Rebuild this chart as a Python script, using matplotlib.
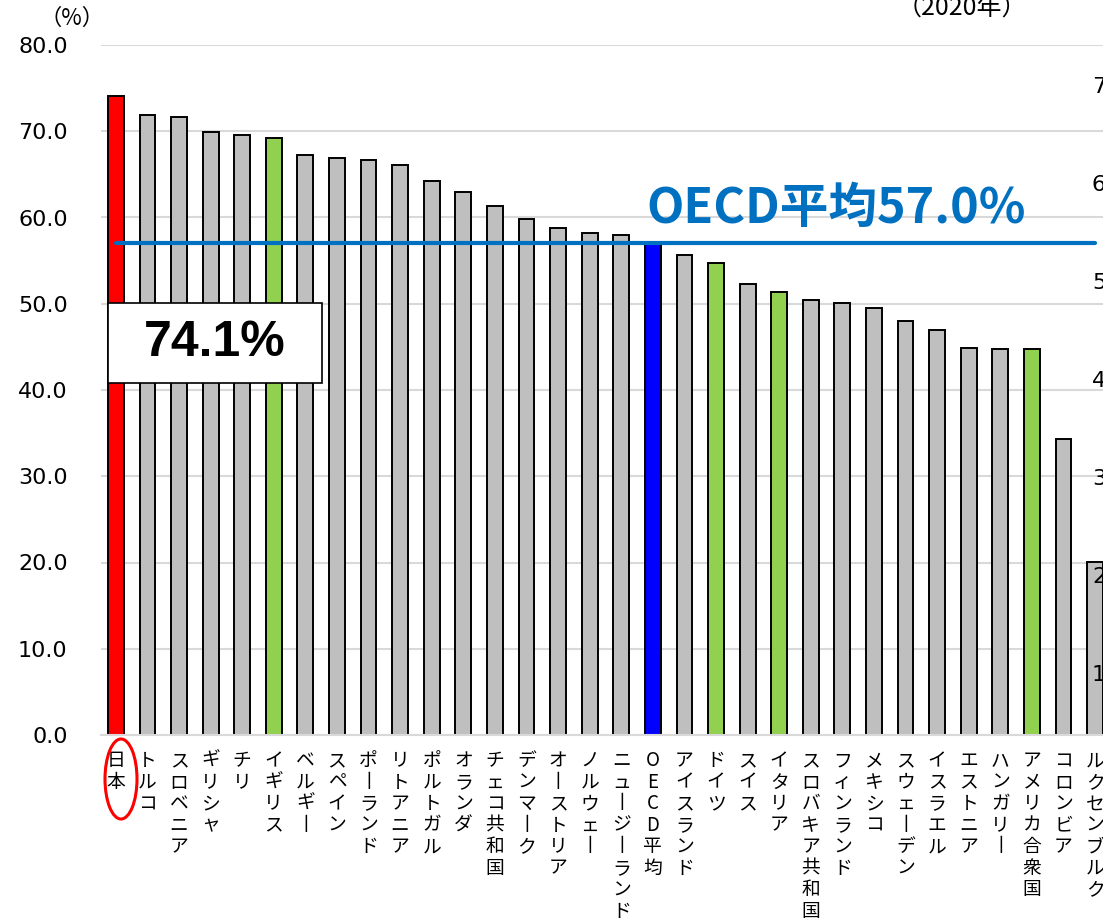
import matplotlib
matplotlib.use('Agg')
import matplotlib.pyplot as plt
from matplotlib.patches import Rectangle, Ellipse

plt.rcParams['font.family'] = ['DejaVu Sans']
JP = ['Noto Sans CJK JP', 'DejaVu Sans']

# 2020年, %
countries = ["日本", "トルコ", "スロベニア", "ギリシャ", "チリ", "イギリス", "ベルギー",
             "スペイン", "ポーランド", "リトアニア", "ポルトガル", "オランダ", "チェコ共和国",
             "デンマーク", "オーストリア", "ノルウェー", "ニュージーランド", "OECD平均",
             "アイスランド", "ドイツ", "スイス", "イタリア", "スロバキア共和国", "フィンランド",
             "メキシコ", "スウェーデン", "イスラエル", "エストニア", "ハンガリー",
             "アメリカ合衆国", "コロンビア", "ルクセンブルク"]
values = [74.1, 71.9, 71.6, 69.9, 69.6, 69.2, 67.3, 66.9, 66.7, 66.1, 64.2, 63.0, 61.3,
          59.8, 58.8, 58.2, 58.0, 57.0, 55.6, 54.7, 52.3, 51.4, 50.4, 50.1, 49.5, 48.0,
          47.0, 44.9, 44.8, 44.8, 34.3, 20.1]
oecd_avg = 57.0
green = ["イギリス", "ドイツ", "イタリア", "アメリカ合衆国"]
yticks = [0, 10, 20, 30, 40, 50, 60, 70, 80]
right_ticks = [10, 20, 30, 40, 50, 60, 70]  # cut-off axis on the right edge

colors = []
for c in countries:
    if c == "日本":
        colors.append("#ff0000")
    elif c == "OECD平均":
        colors.append("#0000ff")
    elif c in green:
        colors.append("#92d050")
    else:
        colors.append("#bfbfbf")

fig = plt.figure(figsize=(11.03, 9.21), dpi=100)
ax = fig.add_axes([101 / 1103, 186 / 921, 1002 / 1103, 690 / 921])

x = list(range(len(countries)))
ax.bar(x, values, width=0.5, color=colors, edgecolor="black", linewidth=1.4, zorder=2)
ax.plot([x[0], x[-1]], [oecd_avg, oecd_avg], color="#0070c0", lw=3, zorder=3,
        solid_capstyle="round")

ax.set_xlim(-0.47, 31.25)
ax.set_ylim(0, 80)
ax.set_yticks(yticks)
ax.set_yticklabels([f"{v:.1f}" for v in yticks], fontsize=16)
ax.grid(axis="y", color="#d9d9d9", lw=1.5)
ax.set_axisbelow(True)
for s in ["top", "right", "left"]:
    ax.spines[s].set_visible(False)
ax.spines["bottom"].set_color("#d9d9d9")
ax.spines["bottom"].set_linewidth(1.5)
ax.tick_params(axis="y", length=0, pad=24)
ax.tick_params(axis="x", length=0, pad=11)

# vertical Japanese labels (long vowel mark turned upright)
vlabels = ["\n".join("丨" if ch == "ー" else ch for ch in c) for c in countries]
ax.set_xticks(x)
ax.set_xticklabels(vlabels, fontsize=13.5, family=JP, linespacing=1.03, va="top")

# right axis, mostly outside the picture
ax2 = ax.twinx()
ax2.set_ylim(3.7, 74.1)
ax2.set_yticks(right_ticks)
ax2.set_yticklabels([f"{v:.1f}" for v in right_ticks], fontsize=16)
ax2.tick_params(axis="y", length=0, pad=-8)
for s in ax2.spines.values():
    s.set_visible(False)

# annotations
ax.text(16.8, 61.0, f"OECD平均{oecd_avg:.1f}%", color="#0070c0", fontsize=35,
        fontweight="bold", family=JP, ha="left", va="center", zorder=4)
ax.add_patch(Rectangle((-0.25, 40.8), 6.77, 9.3, facecolor="white", edgecolor="black",
                       lw=1.2, zorder=4))
ax.text(3.13, 45.4, f"{values[0]:.1f}%", fontsize=36, fontweight="bold",
        family=['Liberation Sans', 'DejaVu Sans'], ha="center", va="center", zorder=5)

fig.add_artist(Ellipse((1.21, 1.42), 0.32, 0.8, transform=fig.dpi_scale_trans,
                       fill=False, edgecolor="#ff0000", lw=2.2))

fig.text(72 / 1103, 1 - 18 / 921, "（%）", fontsize=16, family=JP, ha="center", va="center")
fig.text(962 / 1103, 1 - 8 / 921, "（2020年）", fontsize=18, family=JP, ha="center",
         va="center")

fig.savefig("out.png", dpi=100)
